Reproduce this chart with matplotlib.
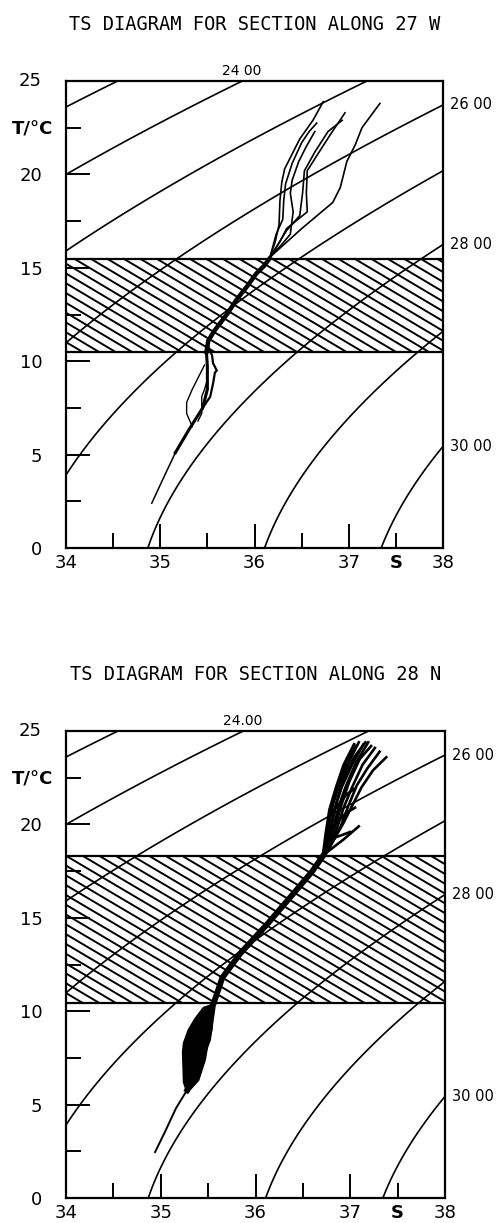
import numpy as np
import matplotlib
matplotlib.use('Agg')
import matplotlib.pyplot as plt

# ---- data ----
titles = ['TS DIAGRAM FOR SECTION ALONG 27 W', 'TS DIAGRAM FOR SECTION ALONG 28 N']
sigma_levels = [23, 24, 25, 26, 27, 28, 29, 30]
top_labels = ['24 00', '24.00']
right_levels = [26, 28, 30]
right_labels = ['26 00', '28 00', '30 00']
bands = [(10.5, 15.5), (10.45, 18.3)]
xticks = [34, 35, 36, 37, 38]
yticks = [0, 5, 10, 15, 20, 25]

# section along 27 W
w_trunk_S = [34.91, 35.02, 35.16, 35.30, 35.45, 35.50, 35.50, 35.49, 35.51, 35.57, 35.63, 35.72, 35.81, 35.92, 36.02, 36.10, 36.16]
w_trunk_T = [2.4, 3.6, 5.1, 6.3, 7.5, 8.5, 9.7, 10.5, 11.1, 11.6, 12.0, 12.6, 13.3, 14.0, 14.7, 15.1, 15.5]
w_leaf_left_S = [35.34, 35.28, 35.28, 35.34, 35.39, 35.44, 35.47]
w_leaf_left_T = [6.5, 7.2, 7.8, 8.5, 9.0, 9.5, 9.8]
w_leaf_mid_S = [35.40, 35.44, 35.44, 35.47, 35.50]
w_leaf_mid_T = [6.8, 7.2, 8.1, 8.5, 9.0]
w_leaf_right_S = [35.45, 35.53, 35.56, 35.58, 35.60, 35.56, 35.55, 35.51]
w_leaf_right_T = [7.5, 8.1, 8.8, 9.4, 9.5, 9.9, 10.3, 10.8]
w_fan = [
    ([36.16, 36.22, 36.26, 36.27, 36.29, 36.32, 36.38, 36.48, 36.62, 36.73],
     [15.5, 16.4, 17.3, 18.6, 19.6, 20.3, 20.9, 21.9, 22.9, 23.9]),
    ([36.16, 36.23, 36.30, 36.31, 36.33, 36.40, 36.50, 36.58, 36.66],
     [15.5, 16.8, 17.6, 18.6, 19.5, 20.6, 21.7, 22.3, 22.75]),
    ([36.17, 36.28, 36.38, 36.41, 36.38, 36.40, 36.47, 36.55, 36.64],
     [15.6, 16.2, 16.8, 18.0, 19.0, 19.7, 20.7, 21.5, 22.3]),
    ([36.16, 36.27, 36.34, 36.56, 36.55, 36.56, 36.66, 36.80, 36.96],
     [15.5, 16.4, 17.1, 18.0, 19.0, 20.2, 21.0, 22.1, 23.3]),
    ([36.18, 36.34, 36.48, 36.51, 36.53, 36.64, 36.78, 36.93],
     [15.7, 17.0, 17.8, 19.0, 20.2, 21.2, 22.3, 22.9]),
    ([36.17, 36.50, 36.83, 36.91, 36.98, 37.07, 37.14, 37.33],
     [15.6, 17.1, 18.5, 19.3, 20.7, 21.6, 22.5, 23.8]),
]

# section along 28 N
n_trunk_S = [34.94, 35.05, 35.16, 35.28, 35.38, 35.50, 35.55, 35.65, 35.84, 36.13, 36.40, 36.60, 36.71]
n_trunk_T = [2.46, 3.6, 4.8, 5.8, 6.9, 8.5, 10.3, 11.8, 13.1, 14.7, 16.3, 17.5, 18.3]
n_leaf_S = [35.28, 35.24, 35.23, 35.24, 35.29, 35.36, 35.45, 35.56,
            35.55, 35.54, 35.50, 35.47, 35.40, 35.31]
n_leaf_T = [5.6, 6.2, 7.8, 8.3, 9.0, 9.6, 10.2, 10.4,
            10.2, 9.0, 8.3, 7.4, 6.3, 5.8]
n_fan = [
    ([36.71, 36.74, 36.78, 36.85, 36.93, 37.04], [18.3, 19.5, 20.8, 22.0, 23.2, 24.3]),
    ([36.71, 36.76, 36.80, 36.88, 36.98, 37.09], [18.3, 19.6, 20.8, 22.1, 23.3, 24.4]),
    ([36.72, 36.79, 36.84, 36.91, 37.02, 37.14], [18.4, 19.7, 20.9, 22.0, 23.2, 24.3]),
    ([36.73, 36.82, 36.88, 36.95, 37.06, 37.19], [18.4, 19.8, 21.0, 22.0, 23.3, 24.4]),
    ([36.74, 36.86, 36.93, 37.02, 37.13, 37.26], [18.5, 19.8, 20.9, 22.0, 23.2, 24.1]),
    ([36.75, 36.90, 36.98, 37.07, 37.18, 37.31], [18.5, 19.9, 21.0, 22.1, 23.0, 23.9]),
    ([36.76, 36.92, 37.02, 37.12, 37.24, 37.38], [18.6, 20.0, 21.0, 22.0, 22.9, 23.6]),
    ([36.72, 36.77, 36.82, 36.90, 36.96, 37.06], [18.4, 19.8, 21.2, 22.4, 23.4, 24.2]),
    ([36.73, 36.80, 36.86, 36.93, 37.04, 37.16], [18.4, 19.9, 21.3, 22.5, 23.6, 24.4]),
    ([36.72, 36.84, 36.91, 36.99, 37.10, 37.22], [18.4, 19.9, 21.1, 22.3, 23.5, 24.2]),
    ([36.75, 36.93, 37.09], [18.5, 19.2, 19.9]),
    ([36.74, 36.84, 37.00], [18.4, 19.3, 19.6]),
    ([36.78, 36.95, 37.05], [19.6, 20.6, 20.9]),
    ([36.80, 36.96, 37.04], [20.6, 21.6, 21.9]),
]


def sigma_t(S, T):
    # UNESCO 1980 equation of state at p = 0
    rw = (999.842594 + 6.793952e-2 * T - 9.095290e-3 * T**2 + 1.001685e-4 * T**3
          - 1.120083e-6 * T**4 + 6.536332e-9 * T**5)
    A = 0.824493 - 4.0899e-3 * T + 7.6438e-5 * T**2 - 8.2467e-7 * T**3 + 5.3875e-9 * T**4
    B = -5.72466e-3 + 1.0227e-4 * T - 1.6546e-6 * T**2
    return rw + A * S + B * S**1.5 + 4.8314e-4 * S**2 - 1000.0


def draw_frame(ax, title, band, top_label):
    ax.set_xlim(34, 38)
    ax.set_ylim(0, 25)
    for sp in ax.spines.values():
        sp.set_linewidth(1.6)

    # isopycnals
    sg, tg = np.meshgrid(np.linspace(34, 38, 300), np.linspace(0, 25, 300))
    ax.contour(sg, tg, sigma_t(sg, tg), levels=sigma_levels, colors='k', linewidths=1.2)

    # hatched band: lines running down to the right, cut to the band
    t_lo, t_hi = band
    slope = 3.0
    dx = (t_hi - t_lo) / slope
    for s0 in np.arange(34.0 - dx, 38.0, 0.175):
        a = max(s0, 34.0)
        b = min(s0 + dx, 38.0)
        if b <= a:
            continue
        ax.plot([a, b], [t_hi - slope * (a - s0), t_hi - slope * (b - s0)],
                color='k', lw=1.4, solid_capstyle='butt')
    ax.axhline(t_lo, color='k', lw=1.6)
    ax.axhline(t_hi, color='k', lw=1.6)

    # ticks
    ax.set_xticks(xticks)
    ax.set_yticks(yticks)
    ax.set_xticks([34.5, 35.5, 36.5, 37.5], minor=True)
    ax.set_yticks([2.5, 7.5, 12.5, 17.5, 22.5], minor=True)
    ax.set_xticklabels([str(v) for v in xticks])
    ax.set_yticklabels(['0', '5', '10', '15', '20', ''])
    ax.set_xticklabels(['', '', '', 'S'], minor=True, fontweight='bold')
    ax.set_yticklabels(['', '', '', '', 'T/°C'], minor=True, fontweight='bold')
    ax.tick_params(which='both', direction='in', width=1.4, labelsize=13)
    ax.tick_params(which='major', length=17)
    ax.tick_params(which='minor', length=11)
    ax.tick_params(axis='y', which='major', pad=17)
    ax.tick_params(axis='y', which='minor', pad=9)
    ax.tick_params(axis='x', which='both', pad=4.5)
    ax.text(-0.065, 1.0, '25', transform=ax.transAxes, ha='right', va='center', fontsize=13)

    # density labels
    ss = np.linspace(34, 38, 2001)
    s24 = np.interp(24, sigma_t(ss, 25.0), ss)
    ax.annotate(top_label, (s24, 25), xytext=(0, 2), textcoords='offset points',
                ha='center', va='bottom', fontsize=10, annotation_clip=False)
    tt = np.linspace(0, 25, 2001)
    for lvl, lab in zip(right_levels, right_labels):
        t_at = np.interp(lvl, sigma_t(38.0, tt)[::-1], tt[::-1])
        ax.annotate(lab, (38, t_at), xytext=(5, 0), textcoords='offset points',
                    ha='left', va='center', fontsize=10.5, annotation_clip=False)

    ax.set_title(title, family='DejaVu Sans Mono', fontsize=13.5, pad=37)


fig = plt.figure(figsize=(5, 12.23), dpi=100)
ax1 = fig.add_axes([0.132, 0.5519, 0.754, 0.3818])
ax2 = fig.add_axes([0.132, 0.0204, 0.758, 0.3818])

draw_frame(ax1, titles[0], bands[0], top_labels[0])
draw_frame(ax2, titles[1], bands[1], top_labels[1])

# 27 W profiles
ax1.plot(w_trunk_S[:3], w_trunk_T[:3], color='k', lw=1.1)
ax1.plot(w_trunk_S[2:8], w_trunk_T[2:8], color='k', lw=2.2)
ax1.plot(w_trunk_S[7:], w_trunk_T[7:], color='k', lw=3.2)
ax1.plot(w_leaf_left_S, w_leaf_left_T, color='k', lw=1.0)
ax1.plot(w_leaf_mid_S, w_leaf_mid_T, color='k', lw=1.0)
ax1.plot(w_leaf_right_S, w_leaf_right_T, color='k', lw=1.6)
for s, t in w_fan:
    ax1.plot(s, t, color='k', lw=1.2)

# 28 N profiles
ax2.plot(n_trunk_S[:4], n_trunk_T[:4], color='k', lw=1.4)
ax2.plot(n_trunk_S[3:], n_trunk_T[3:], color='k', lw=4.2)
ax2.fill(n_leaf_S, n_leaf_T, color='k', lw=1.0)
for s, t in n_fan:
    ax2.plot(s, t, color='k', lw=1.9)

plt.savefig('out.png', dpi=100)
